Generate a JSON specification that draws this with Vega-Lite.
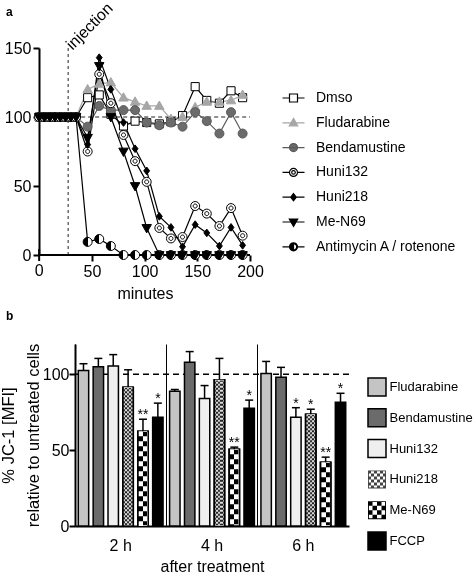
{
  "$schema": "https://vega.github.io/schema/vega-lite/v6.json",
  "background": "white",
  "padding": {"left": 0, "top": 0, "right": 0, "bottom": 0},
  "config": {
    "font": "Liberation Sans",
    "view": {"stroke": null},
    "axis": {"labelFontSize": 16, "titleFontSize": 16, "labelColor": "black", "titleColor": "black", "titleFontWeight": "normal", "domainColor": "black", "domainWidth": 2, "tickColor": "black", "tickWidth": 2, "tickSize": 6, "grid": false, "labelPadding": 2, "zindex": 1},
    "legend": {"labelFont": "Liberation Sans", "labelColor": "black"},
    "title": {"fontSize": 12, "fontWeight": "bold", "anchor": "start", "frame": "group", "color": "black"}
  },
  "datasets": {
    "tc": [
      {"s":"Dmso","t":0,"v":100},{"s":"Dmso","t":5,"v":100},{"s":"Dmso","t":10,"v":100},{"s":"Dmso","t":15,"v":100},{"s":"Dmso","t":20,"v":100},{"s":"Dmso","t":25,"v":100},{"s":"Dmso","t":30,"v":100},{"s":"Dmso","t":35,"v":100},
      {"s":"Dmso","t":46,"v":114},{"s":"Dmso","t":57,"v":116},{"s":"Dmso","t":68,"v":102},{"s":"Dmso","t":80,"v":93.5},{"s":"Dmso","t":91,"v":97},{"s":"Dmso","t":102,"v":96},{"s":"Dmso","t":114,"v":95},{"s":"Dmso","t":125,"v":96.5},{"s":"Dmso","t":136,"v":101},{"s":"Dmso","t":148,"v":122},{"s":"Dmso","t":159,"v":112},{"s":"Dmso","t":171,"v":110},{"s":"Dmso","t":182,"v":119},{"s":"Dmso","t":193,"v":114},
      {"s":"Fludarabine","t":0,"v":100},{"s":"Fludarabine","t":5,"v":100},{"s":"Fludarabine","t":10,"v":100},{"s":"Fludarabine","t":15,"v":100},{"s":"Fludarabine","t":20,"v":100},{"s":"Fludarabine","t":25,"v":100},{"s":"Fludarabine","t":30,"v":100},{"s":"Fludarabine","t":35,"v":100},
      {"s":"Fludarabine","t":46,"v":120},{"s":"Fludarabine","t":57,"v":124},{"s":"Fludarabine","t":68,"v":125},{"s":"Fludarabine","t":80,"v":114},{"s":"Fludarabine","t":91,"v":111},{"s":"Fludarabine","t":102,"v":108},{"s":"Fludarabine","t":114,"v":108},{"s":"Fludarabine","t":125,"v":98.5},{"s":"Fludarabine","t":136,"v":100},{"s":"Fludarabine","t":148,"v":107},{"s":"Fludarabine","t":159,"v":111},{"s":"Fludarabine","t":171,"v":111},{"s":"Fludarabine","t":182,"v":112},{"s":"Fludarabine","t":193,"v":116},
      {"s":"Bendamustine","t":0,"v":100},{"s":"Bendamustine","t":5,"v":100},{"s":"Bendamustine","t":10,"v":100},{"s":"Bendamustine","t":15,"v":100},{"s":"Bendamustine","t":20,"v":100},{"s":"Bendamustine","t":25,"v":100},{"s":"Bendamustine","t":30,"v":100},{"s":"Bendamustine","t":35,"v":100},
      {"s":"Bendamustine","t":46,"v":93},{"s":"Bendamustine","t":57,"v":108},{"s":"Bendamustine","t":68,"v":105},{"s":"Bendamustine","t":80,"v":105},{"s":"Bendamustine","t":91,"v":105},{"s":"Bendamustine","t":102,"v":96},{"s":"Bendamustine","t":114,"v":94},{"s":"Bendamustine","t":125,"v":96},{"s":"Bendamustine","t":136,"v":93},{"s":"Bendamustine","t":148,"v":103.5},{"s":"Bendamustine","t":159,"v":97},{"s":"Bendamustine","t":171,"v":88},{"s":"Bendamustine","t":182,"v":103.5},{"s":"Bendamustine","t":193,"v":88},
      {"s":"Huni132","t":0,"v":100},{"s":"Huni132","t":5,"v":100},{"s":"Huni132","t":10,"v":100},{"s":"Huni132","t":15,"v":100},{"s":"Huni132","t":20,"v":100},{"s":"Huni132","t":25,"v":100},{"s":"Huni132","t":30,"v":100},{"s":"Huni132","t":35,"v":100},
      {"s":"Huni132","t":46,"v":75},{"s":"Huni132","t":57,"v":131},{"s":"Huni132","t":68,"v":110},{"s":"Huni132","t":80,"v":87},{"s":"Huni132","t":91,"v":68},{"s":"Huni132","t":102,"v":53},{"s":"Huni132","t":114,"v":19.6},{"s":"Huni132","t":125,"v":12},{"s":"Huni132","t":136,"v":13},{"s":"Huni132","t":148,"v":35.5},{"s":"Huni132","t":159,"v":30},{"s":"Huni132","t":171,"v":21},{"s":"Huni132","t":182,"v":34},{"s":"Huni132","t":193,"v":14},
      {"s":"Antimycin A / rotenone","t":0,"v":100},{"s":"Antimycin A / rotenone","t":5,"v":100},{"s":"Antimycin A / rotenone","t":10,"v":100},{"s":"Antimycin A / rotenone","t":15,"v":100},{"s":"Antimycin A / rotenone","t":20,"v":100},{"s":"Antimycin A / rotenone","t":25,"v":100},{"s":"Antimycin A / rotenone","t":30,"v":100},{"s":"Antimycin A / rotenone","t":35,"v":100},
      {"s":"Antimycin A / rotenone","t":46,"v":9.5},{"s":"Antimycin A / rotenone","t":57,"v":11.6},{"s":"Antimycin A / rotenone","t":68,"v":6.5},{"s":"Antimycin A / rotenone","t":80,"v":0},{"s":"Antimycin A / rotenone","t":91,"v":0},{"s":"Antimycin A / rotenone","t":102,"v":0},{"s":"Antimycin A / rotenone","t":114,"v":0},{"s":"Antimycin A / rotenone","t":125,"v":0},{"s":"Antimycin A / rotenone","t":136,"v":0},{"s":"Antimycin A / rotenone","t":148,"v":0},{"s":"Antimycin A / rotenone","t":159,"v":0},{"s":"Antimycin A / rotenone","t":171,"v":0},{"s":"Antimycin A / rotenone","t":182,"v":0},{"s":"Antimycin A / rotenone","t":193,"v":0},
      {"s":"Huni218","t":0,"v":100},{"s":"Huni218","t":5,"v":100},{"s":"Huni218","t":10,"v":100},{"s":"Huni218","t":15,"v":100},{"s":"Huni218","t":20,"v":100},{"s":"Huni218","t":25,"v":100},{"s":"Huni218","t":30,"v":100},{"s":"Huni218","t":35,"v":100},
      {"s":"Huni218","t":46,"v":80},{"s":"Huni218","t":57,"v":143},{"s":"Huni218","t":68,"v":120},{"s":"Huni218","t":80,"v":96},{"s":"Huni218","t":91,"v":77},{"s":"Huni218","t":102,"v":61},{"s":"Huni218","t":114,"v":28},{"s":"Huni218","t":125,"v":20},{"s":"Huni218","t":136,"v":6},{"s":"Huni218","t":148,"v":22},{"s":"Huni218","t":159,"v":16},{"s":"Huni218","t":171,"v":6.5},{"s":"Huni218","t":182,"v":20},{"s":"Huni218","t":193,"v":7},
      {"s":"Me-N69","t":0,"v":100},{"s":"Me-N69","t":5,"v":100},{"s":"Me-N69","t":10,"v":100},{"s":"Me-N69","t":15,"v":100},{"s":"Me-N69","t":20,"v":100},{"s":"Me-N69","t":25,"v":100},{"s":"Me-N69","t":30,"v":100},{"s":"Me-N69","t":35,"v":100},
      {"s":"Me-N69","t":46,"v":85},{"s":"Me-N69","t":57,"v":137},{"s":"Me-N69","t":68,"v":100},{"s":"Me-N69","t":80,"v":75},{"s":"Me-N69","t":91,"v":50},{"s":"Me-N69","t":102,"v":19.6},{"s":"Me-N69","t":114,"v":0},{"s":"Me-N69","t":125,"v":0},{"s":"Me-N69","t":136,"v":0},{"s":"Me-N69","t":148,"v":0},{"s":"Me-N69","t":159,"v":0},{"s":"Me-N69","t":171,"v":0},{"s":"Me-N69","t":182,"v":0},{"s":"Me-N69","t":193,"v":0}
    ],
    "bars": [
      {"time":"2 h","series":"Fludarabine","mean":102.6,"upper":107,"sig":""},
      {"time":"2 h","series":"Bendamustine","mean":105,"upper":110.5,"sig":""},
      {"time":"2 h","series":"Huni132","mean":105.5,"upper":113,"sig":""},
      {"time":"2 h","series":"Huni218","mean":91.5,"upper":103,"sig":""},
      {"time":"2 h","series":"Me-N69","mean":62.5,"upper":70.4,"sig":"**"},
      {"time":"2 h","series":"FCCP","mean":71.7,"upper":81,"sig":"*"},
      {"time":"4 h","series":"Fludarabine","mean":88.8,"upper":90,"sig":""},
      {"time":"4 h","series":"Bendamustine","mean":108,"upper":115,"sig":""},
      {"time":"4 h","series":"Huni132","mean":84,"upper":92.6,"sig":""},
      {"time":"4 h","series":"Huni218","mean":96.5,"upper":110.5,"sig":""},
      {"time":"4 h","series":"Me-N69","mean":50.6,"upper":52,"sig":"**"},
      {"time":"4 h","series":"FCCP","mean":77.6,"upper":83,"sig":"*"},
      {"time":"6 h","series":"Fludarabine","mean":100.5,"upper":108.5,"sig":""},
      {"time":"6 h","series":"Bendamustine","mean":98,"upper":104.6,"sig":""},
      {"time":"6 h","series":"Huni132","mean":71.7,"upper":78,"sig":"*"},
      {"time":"6 h","series":"Huni218","mean":73.7,"upper":77,"sig":"*"},
      {"time":"6 h","series":"Me-N69","mean":42,"upper":45.4,"sig":"**"},
      {"time":"6 h","series":"FCCP","mean":81.6,"upper":87.5,"sig":"*"}
    ]
  },
  "spacing": 9,
  "vconcat": [
    {
      "title": {"text": "a", "dx": -69, "offset": -19},
      "width": 175,
      "height": 207,
      "data": {"name": "tc"},
      "resolve": {"scale": {"shape": "independent", "fill": "independent", "stroke": "independent"}},
      "layer": [
        {
          "data": {"values": [{}]},
          "mark": {"type": "rule", "strokeDash": [4, 3], "strokeWidth": 1.2, "color": "#222"},
          "encoding": {
            "x": {"datum": 0, "type": "quantitative", "axis": {"values": [0, 50, 100, 150, 200], "title": "minutes", "titlePadding": 6, "domain": false, "labelFlush": false, "titleX": 70}},
            "x2": {"datum": 200},
            "y": {"datum": 100, "type": "quantitative", "axis": {"values": [0, 50, 100, 150], "title": null, "offset": 36}}
          }
        },
        {
          "data": {"values": [{}]},
          "mark": {"type": "rule", "strokeDash": [3, 3], "strokeWidth": 1, "color": "#222"},
          "encoding": {
            "x": {"datum": 27.5, "type": "quantitative", "axis": {"values": [0, 50, 100, 150, 200], "title": "minutes", "titlePadding": 6, "domain": false, "labelFlush": false, "titleX": 70}},
            "y": {"datum": 0, "type": "quantitative", "axis": {"values": [0, 50, 100, 150], "title": null, "offset": 36}},
            "y2": {"datum": 150}
          }
        },
        {
          "data": {"values": [{}]},
          "mark": {"type": "text", "text": "injection", "angle": -45, "align": "left", "baseline": "middle", "fontSize": 16, "dx": 1, "color": "black"},
          "encoding": {
            "x": {"datum": 27.5, "type": "quantitative", "axis": {"values": [0, 50, 100, 150, 200], "title": "minutes", "titlePadding": 6, "domain": false, "labelFlush": false, "titleX": 70}},
            "y": {"datum": 150, "type": "quantitative", "axis": {"values": [0, 50, 100, 150], "title": null, "offset": 36}}
          }
        },
        {
          "data": {"values": [{}]},
          "mark": {"type": "text", "text": "0", "align": "center", "baseline": "top", "fontSize": 16, "dy": 8, "color": "black"},
          "encoding": {
            "x": {"datum": 0, "type": "quantitative", "axis": {"values": [0, 50, 100, 150, 200], "title": "minutes", "titlePadding": 6, "domain": false, "labelFlush": false, "titleX": 70}},
            "y": {"datum": 0, "type": "quantitative", "axis": {"values": [0, 50, 100, 150], "title": null, "offset": 36}}
          }
        },
        {
          "data": {"values": [{}]},
          "mark": {"type": "tick", "orient": "vertical", "size": 12, "thickness": 2, "color": "black", "opacity": 1},
          "encoding": {
            "x": {"datum": 0, "type": "quantitative", "axis": {"values": [0, 50, 100, 150, 200], "title": "minutes", "titlePadding": 6, "domain": false, "labelFlush": false, "titleX": 70}},
            "y": {"datum": 0, "type": "quantitative", "axis": {"values": [0, 50, 100, 150], "title": null, "offset": 36}}
          }
        },
        {
          "mark": {"type": "line", "strokeWidth": 1.2},
          "encoding": {
            "x": {"field": "t", "type": "quantitative", "scale": {"domain": [34, 200], "nice": false, "zero": false}, "axis": {"values": [0, 50, 100, 150, 200], "title": "minutes", "titlePadding": 6, "domain": false, "labelFlush": false, "titleX": 70}},
            "y": {"field": "v", "type": "quantitative", "scale": {"domain": [0, 150], "nice": false}, "axis": {"values": [0, 50, 100, 150], "title": null, "offset": 36}},
            "stroke": {"field": "s", "type": "nominal", "scale": {"domain": ["Dmso", "Fludarabine", "Bendamustine", "Huni132", "Huni218", "Me-N69", "Antimycin A / rotenone"], "range": ["black", "#a6a6a6", "#5a5a5a", "black", "black", "black", "black"]}, "legend": null}
          }
        },
        {
          "data": {"values": [{}]},
          "mark": {"type": "rule", "strokeWidth": 2, "color": "black"},
          "encoding": {
            "x": {"datum": 0, "type": "quantitative", "axis": {"values": [0, 50, 100, 150, 200], "title": "minutes", "titlePadding": 6, "domain": false, "labelFlush": false, "titleX": 70}},
            "x2": {"datum": 200},
            "y": {"datum": 0, "type": "quantitative", "axis": {"values": [0, 50, 100, 150], "title": null, "offset": 36}}
          }
        },
        {
          "transform": [{"filter": "datum.s == 'Antimycin A / rotenone'"}],
          "mark": {"type": "point", "shape": "circle", "size": 81, "filled": true, "opacity": 1, "stroke": "black", "strokeWidth": 1,
            "fill": {"gradient": "linear", "x1": 0, "y1": 0, "x2": 1, "y2": 0, "stops": [{"offset": 0, "color": "black"}, {"offset": 0.5, "color": "black"}, {"offset": 0.5, "color": "white"}, {"offset": 1, "color": "white"}]}},
          "encoding": {
            "x": {"field": "t", "type": "quantitative", "axis": {"values": [0, 50, 100, 150, 200], "title": "minutes", "titlePadding": 6, "domain": false, "labelFlush": false, "titleX": 70}},
            "y": {"field": "v", "type": "quantitative", "axis": {"values": [0, 50, 100, 150], "title": null, "offset": 36}}
          }
        },
        {
          "transform": [{"filter": "datum.s != 'Antimycin A / rotenone'"}],
          "mark": {"type": "point", "size": 81, "filled": true, "opacity": 1, "strokeWidth": 1},
          "encoding": {
            "x": {"field": "t", "type": "quantitative", "axis": {"values": [0, 50, 100, 150, 200], "title": "minutes", "titlePadding": 6, "domain": false, "labelFlush": false, "titleX": 70}},
            "y": {"field": "v", "type": "quantitative", "axis": {"values": [0, 50, 100, 150], "title": null, "offset": 36}},
            "stroke": {"field": "s", "type": "nominal", "scale": {"domain": ["Dmso", "Fludarabine", "Bendamustine", "Huni132", "Huni218", "Me-N69", "Antimycin A / rotenone"], "range": ["black", "#a6a6a6", "#5a5a5a", "black", "black", "black", "black"]}, "legend": null},
            "fill": {"field": "s", "type": "nominal", "scale": {"domain": ["Dmso", "Fludarabine", "Bendamustine", "Huni132", "Huni218", "Me-N69", "Antimycin A / rotenone"], "range": ["white", "#a6a6a6", "#6b6b6b", "white", "black", "black", "white"]}, "legend": null},
            "shape": {"field": "s", "type": "nominal",
              "scale": {"domain": ["Dmso", "Fludarabine", "Bendamustine", "Huni132", "Huni218", "Me-N69", "Antimycin A / rotenone"],
                "range": ["M-0.9,-0.9H0.9V0.9H-0.9Z", "M0,-1.1L1.05,0.75H-1.05Z", "circle", "M-1,0A1,1 0 1,0 1,0A1,1 0 1,0 -1,0ZM-0.45,0A0.45,0.45 0 1,0 0.45,0A0.45,0.45 0 1,0 -0.45,0Z", "M0,-0.85L0.65,0L0,0.85L-0.65,0Z", "M0,1.1L1.05,-0.75H-1.05Z", "circle"]},
              "legend": null}
          }
        },
        {
          "transform": [{"filter": "false"}],
          "mark": {"type": "point", "filled": true, "opacity": 1, "strokeWidth": 1.2},
          "encoding": {
            "x": {"field": "t", "type": "quantitative", "axis": {"values": [0, 50, 100, 150, 200], "title": "minutes", "titlePadding": 6, "domain": false, "labelFlush": false, "titleX": 70}},
            "y": {"field": "v", "type": "quantitative", "axis": {"values": [0, 50, 100, 150], "title": null, "offset": 36}},
            "stroke": {"field": "s", "type": "nominal", "scale": {"domain": ["Dmso", "Fludarabine", "Bendamustine", "Huni132", "Huni218", "Me-N69", "Antimycin A / rotenone"], "range": ["black", "#a6a6a6", "#5a5a5a", "black", "black", "black", "black"]}},
            "fill": {"field": "s", "type": "nominal", "scale": {"domain": ["Dmso", "Fludarabine", "Bendamustine", "Huni132", "Huni218", "Me-N69", "Antimycin A / rotenone"], "range": ["white", "#a6a6a6", "#6b6b6b", "white", "black", "black", "black"]}},
            "shape": {"field": "s", "type": "nominal",
              "scale": {"domain": ["Dmso", "Fludarabine", "Bendamustine", "Huni132", "Huni218", "Me-N69", "Antimycin A / rotenone"],
                "range": ["M-2.75,0H-1M1,0H2.75M-1,-1H1V1H-1Z", "M-2.75,0H2.75M0,-1.1L1.05,0.75H-1.05Z", "M-2.75,0H2.75M-1,0A1,1 0 1,0 1,0A1,1 0 1,0 -1,0Z", "M-2.75,0H-1M1,0H2.75M-1,0A1,1 0 1,0 1,0A1,1 0 1,0 -1,0ZM-0.45,0A0.45,0.45 0 1,0 0.45,0A0.45,0.45 0 1,0 -0.45,0Z", "M-2.75,0H2.75M0,-0.9L0.7,0L0,0.9L-0.7,0Z", "M-2.75,0H2.75M0,1.1L1.05,-0.75H-1.05Z", "M-2.75,0H-1M1,0H2.75M0,-1A1,1 0 0,0 0,1ZM0,-1A1,1 0 0,1 0,1L0,0.8A0.8,0.8 0 0,0 0,-0.8Z"]},
              "legend": {"orient": "none", "legendX": 211.5, "legendY": 43, "title": null, "symbolSize": 64, "symbolStrokeWidth": 1.2, "labelFontSize": 14, "labelOffset": 15.5, "rowPadding": 10.8}}
          }
        }
      ]
    },
    {
      "title": {"text": "b", "dx": -69, "offset": 20},
      "width": 274,
      "height": 182,
      "data": {"name": "bars"},
      "layer": [
        {
          "data": {"values": [{}]},
          "mark": {"type": "rule", "strokeDash": [6, 4], "strokeWidth": 1.5, "color": "black"},
          "encoding": {"y": {"datum": 100, "type": "quantitative", "axis": {"values": [0, 50, 100], "title": ["\u00a0\u00a0\u00a0\u00a0\u00a0\u00a0\u00a0\u00a0% JC-1 [MFI]", "relative to untreated cells"], "labelPadding": 0, "titlePadding": 1, "titleFontSize": 16.5, "titleLineHeight": 25}}}
        },
        {
          "mark": {"type": "bar", "stroke": "black", "strokeWidth": 1.5, "opacity": 1},
          "encoding": {
            "x": {"field": "time", "type": "nominal", "scale": {"domain": ["2 h", "4 h", "6 h"], "paddingInner": 0, "paddingOuter": 0},
              "axis": {"title": "after treatment", "labelAngle": 0, "ticks": false, "labelPadding": 11, "titlePadding": 5, "grid": true, "bandPosition": 0, "gridColor": "black", "gridWidth": 1, "gridOpacity": 1}},
            "xOffset": {"field": "series", "type": "nominal", "scale": {"domain": ["Fludarabine", "Bendamustine", "Huni132", "Huni218", "Me-N69", "FCCP"], "paddingInner": 0.3, "paddingOuter": 0.22}},
            "y": {"field": "mean", "type": "quantitative", "scale": {"domain": [0, 120], "nice": false},
              "axis": {"values": [0, 50, 100], "title": ["\u00a0\u00a0\u00a0\u00a0\u00a0\u00a0\u00a0\u00a0% JC-1 [MFI]", "relative to untreated cells"], "labelPadding": 0, "titlePadding": 1, "titleFontSize": 16.5, "titleLineHeight": 25}},
            "color": {"field": "series", "type": "nominal",
              "scale": {"domain": ["FCCP", "Fludarabine", "Bendamustine", "Huni132", "Huni218", "Me-N69"], "range": ["#000000", "#c4c4c4", "#6b6b6b", "#efefef", "#9a9a9a", "#7a7a7a"]},
              "legend": null}
          }
        },
        {
          "transform": [{"filter": "datum.series == 'Huni218'"}],
          "mark": {"type": "bar", "stroke": "black", "strokeWidth": 1.5,
            "fill": {"gradient": "linear", "x1": 0, "y1": 0, "x2": 1, "y2": 0, "stops": [{"offset": 0, "color": "#333"}, {"offset": 0.2, "color": "#333"}, {"offset": 0.2, "color": "#ddd"}, {"offset": 0.4, "color": "#ddd"}, {"offset": 0.4, "color": "#333"}, {"offset": 0.6, "color": "#333"}, {"offset": 0.6, "color": "#ddd"}, {"offset": 0.8, "color": "#ddd"}, {"offset": 0.8, "color": "#333"}, {"offset": 1, "color": "#333"}]}},
          "encoding": {
            "x": {"field": "time", "type": "nominal", "axis": {"title": "after treatment", "labelAngle": 0, "ticks": false, "labelPadding": 11, "titlePadding": 5, "grid": true, "bandPosition": 0, "gridColor": "black", "gridWidth": 1, "gridOpacity": 1}},
            "xOffset": {"field": "series", "type": "nominal"},
            "y": {"field": "mean", "type": "quantitative", "axis": {"values": [0, 50, 100], "title": ["\u00a0\u00a0\u00a0\u00a0\u00a0\u00a0\u00a0\u00a0% JC-1 [MFI]", "relative to untreated cells"], "labelPadding": 0, "titlePadding": 1, "titleFontSize": 16.5, "titleLineHeight": 25}}
          }
        },
        {
          "transform": [{"filter": "datum.series == 'Me-N69'"}],
          "mark": {"type": "bar", "stroke": "black", "strokeWidth": 1.5,
            "fill": {"gradient": "linear", "x1": 0, "y1": 0, "x2": 1, "y2": 0, "stops": [{"offset": 0, "color": "black"}, {"offset": 0.5, "color": "black"}, {"offset": 0.5, "color": "white"}, {"offset": 1, "color": "white"}]}},
          "encoding": {
            "x": {"field": "time", "type": "nominal", "axis": {"title": "after treatment", "labelAngle": 0, "ticks": false, "labelPadding": 11, "titlePadding": 5, "grid": true, "bandPosition": 0, "gridColor": "black", "gridWidth": 1, "gridOpacity": 1}},
            "xOffset": {"field": "series", "type": "nominal"},
            "y": {"field": "mean", "type": "quantitative", "axis": {"values": [0, 50, 100], "title": ["\u00a0\u00a0\u00a0\u00a0\u00a0\u00a0\u00a0\u00a0% JC-1 [MFI]", "relative to untreated cells"], "labelPadding": 0, "titlePadding": 1, "titleFontSize": 16.5, "titleLineHeight": 25}}
          }
        },
        {
          "transform": [{"filter": "datum.series == 'Huni218'"}],
          "mark": {"type": "rule", "stroke": "white", "strokeWidth": 8.5, "strokeDash": [2, 2], "blend": "difference"},
          "encoding": {
            "x": {"field": "time", "type": "nominal", "axis": {"title": "after treatment", "labelAngle": 0, "ticks": false, "labelPadding": 11, "titlePadding": 5, "grid": true, "bandPosition": 0, "gridColor": "black", "gridWidth": 1, "gridOpacity": 1}},
            "xOffset": {"field": "series", "type": "nominal"},
            "y": {"field": "mean", "type": "quantitative", "axis": {"values": [0, 50, 100], "title": ["\u00a0\u00a0\u00a0\u00a0\u00a0\u00a0\u00a0\u00a0% JC-1 [MFI]", "relative to untreated cells"], "labelPadding": 0, "titlePadding": 1, "titleFontSize": 16.5, "titleLineHeight": 25}},
            "y2": {"datum": 0}
          }
        },
        {
          "transform": [{"filter": "datum.series == 'Me-N69'"}],
          "mark": {"type": "rule", "stroke": "white", "strokeWidth": 8.5, "strokeDash": [5, 5], "blend": "difference"},
          "encoding": {
            "x": {"field": "time", "type": "nominal", "axis": {"title": "after treatment", "labelAngle": 0, "ticks": false, "labelPadding": 11, "titlePadding": 5, "grid": true, "bandPosition": 0, "gridColor": "black", "gridWidth": 1, "gridOpacity": 1}},
            "xOffset": {"field": "series", "type": "nominal"},
            "y": {"field": "mean", "type": "quantitative", "axis": {"values": [0, 50, 100], "title": ["\u00a0\u00a0\u00a0\u00a0\u00a0\u00a0\u00a0\u00a0% JC-1 [MFI]", "relative to untreated cells"], "labelPadding": 0, "titlePadding": 1, "titleFontSize": 16.5, "titleLineHeight": 25}},
            "y2": {"datum": 0}
          }
        },
        {
          "mark": {"type": "rule", "color": "black", "strokeWidth": 1.5},
          "encoding": {
            "x": {"field": "time", "type": "nominal", "axis": {"title": "after treatment", "labelAngle": 0, "ticks": false, "labelPadding": 11, "titlePadding": 5, "grid": true, "bandPosition": 0, "gridColor": "black", "gridWidth": 1, "gridOpacity": 1}},
            "xOffset": {"field": "series", "type": "nominal"},
            "y": {"field": "mean", "type": "quantitative", "axis": {"values": [0, 50, 100], "title": ["\u00a0\u00a0\u00a0\u00a0\u00a0\u00a0\u00a0\u00a0% JC-1 [MFI]", "relative to untreated cells"], "labelPadding": 0, "titlePadding": 1, "titleFontSize": 16.5, "titleLineHeight": 25}},
            "y2": {"field": "upper"}
          }
        },
        {
          "mark": {"type": "tick", "color": "black", "size": 8, "thickness": 1.5, "opacity": 1},
          "encoding": {
            "x": {"field": "time", "type": "nominal", "axis": {"title": "after treatment", "labelAngle": 0, "ticks": false, "labelPadding": 11, "titlePadding": 5, "grid": true, "bandPosition": 0, "gridColor": "black", "gridWidth": 1, "gridOpacity": 1}},
            "xOffset": {"field": "series", "type": "nominal"},
            "y": {"field": "upper", "type": "quantitative", "axis": {"values": [0, 50, 100], "title": ["\u00a0\u00a0\u00a0\u00a0\u00a0\u00a0\u00a0\u00a0% JC-1 [MFI]", "relative to untreated cells"], "labelPadding": 0, "titlePadding": 1, "titleFontSize": 16.5, "titleLineHeight": 25}}
          }
        },
        {
          "transform": [{"filter": "datum.sig != ''"}],
          "mark": {"type": "text", "fontSize": 14, "baseline": "alphabetic", "color": "black"},
          "encoding": {
            "x": {"field": "time", "type": "nominal", "axis": {"title": "after treatment", "labelAngle": 0, "ticks": false, "labelPadding": 11, "titlePadding": 5, "grid": true, "bandPosition": 0, "gridColor": "black", "gridWidth": 1, "gridOpacity": 1}},
            "xOffset": {"field": "series", "type": "nominal"},
            "y": {"field": "upper", "type": "quantitative", "axis": {"values": [0, 50, 100], "title": ["\u00a0\u00a0\u00a0\u00a0\u00a0\u00a0\u00a0\u00a0% JC-1 [MFI]", "relative to untreated cells"], "labelPadding": 0, "titlePadding": 1, "titleFontSize": 16.5, "titleLineHeight": 25}},
            "text": {"field": "sig"}
          }
        },
        {
          "transform": [{"filter": "false"}],
          "mark": {"type": "point", "filled": true, "opacity": 1, "strokeWidth": 1.5},
          "encoding": {
            "x": {"field": "time", "type": "nominal", "axis": {"title": "after treatment", "labelAngle": 0, "ticks": false, "labelPadding": 11, "titlePadding": 5, "grid": true, "bandPosition": 0, "gridColor": "black", "gridWidth": 1, "gridOpacity": 1}},
            "xOffset": {"field": "series", "type": "nominal"},
            "y": {"field": "mean", "type": "quantitative", "axis": {"values": [0, 50, 100], "title": ["\u00a0\u00a0\u00a0\u00a0\u00a0\u00a0\u00a0\u00a0% JC-1 [MFI]", "relative to untreated cells"], "labelPadding": 0, "titlePadding": 1, "titleFontSize": 16.5, "titleLineHeight": 25}},
            "fill": {"field": "series", "type": "nominal",
              "scale": {"domain": ["Fludarabine", "Bendamustine", "Huni132", "Huni218", "Me-N69", "FCCP"], "range": ["#c4c4c4", "#6b6b6b", "#efefef", "#444444", "#000000", "#000000"]}},
            "stroke": {"field": "series", "type": "nominal",
              "scale": {"domain": ["Fludarabine", "Bendamustine", "Huni132", "Huni218", "Me-N69", "FCCP"], "range": ["#000000", "#000000", "#000000", "transparent", "transparent", "#000000"]}},
            "shape": {"field": "series", "type": "nominal",
              "scale": {"domain": ["Fludarabine", "Bendamustine", "Huni132", "Huni218", "Me-N69", "FCCP"],
                "range": ["square", "square", "square",
                  "M-1,-1H1V1H-1ZM-0.9,-0.9V0.9H0.9V-0.9ZM-1,-1h0.3333v0.3333h-0.3333ZM-0.3333,-1h0.3333v0.3333h-0.3333ZM0.3333,-1h0.3333v0.3333h-0.3333ZM-0.6667,-0.6667h0.3333v0.3333h-0.3333ZM0,-0.6667h0.3333v0.3333h-0.3333ZM0.6667,-0.6667h0.3333v0.3333h-0.3333ZM-1,-0.3333h0.3333v0.3333h-0.3333ZM-0.3333,-0.3333h0.3333v0.3333h-0.3333ZM0.3333,-0.3333h0.3333v0.3333h-0.3333ZM-0.6667,0h0.3333v0.3333h-0.3333ZM0,0h0.3333v0.3333h-0.3333ZM0.6667,0h0.3333v0.3333h-0.3333ZM-1,0.3333h0.3333v0.3333h-0.3333ZM-0.3333,0.3333h0.3333v0.3333h-0.3333ZM0.3333,0.3333h0.3333v0.3333h-0.3333ZM-0.6667,0.6667h0.3333v0.3333h-0.3333ZM0,0.6667h0.3333v0.3333h-0.3333ZM0.6667,0.6667h0.3333v0.3333h-0.3333Z",
                  "M-1,-1H1V1H-1ZM-0.9,-0.9V0.9H0.9V-0.9ZM-1,-1h0.5v0.5h-0.5ZM0,-1h0.5v0.5h-0.5ZM-0.5,-0.5h0.5v0.5h-0.5ZM0.5,-0.5h0.5v0.5h-0.5ZM-1,0h0.5v0.5h-0.5ZM0,0h0.5v0.5h-0.5ZM-0.5,0.5h0.5v0.5h-0.5ZM0.5,0.5h0.5v0.5h-0.5Z",
                  "square"]},
              "legend": {"orient": "none", "legendX": 292, "legendY": 329, "title": null, "symbolSize": 324, "symbolStrokeWidth": 1.5, "labelFontSize": 13, "labelOffset": 2.5, "rowPadding": 6.8}}
          }
        }
      ]
    }
  ]
}
